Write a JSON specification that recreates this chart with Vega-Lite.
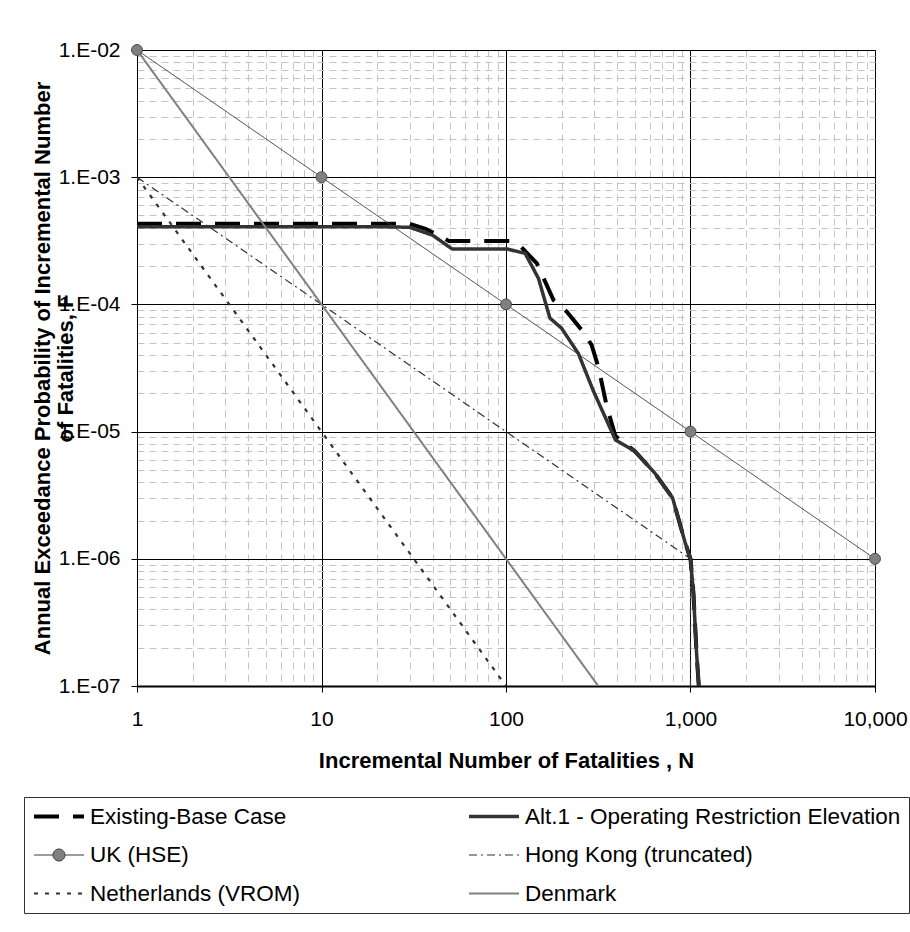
{
  "$schema": "https://vega.github.io/schema/vega-lite/v6.json",
  "width": 738,
  "height": 636,
  "autosize": {"type": "none"},
  "padding": {"left": 137, "top": 50, "right": 35, "bottom": 246},
  "background": "white",
  "config": {
    "view": {"stroke": null},
    "font": "Liberation Sans",
    "axis": {"labelFont": "Liberation Sans", "titleFont": "Liberation Sans"}
  },
  "datasets": {
    "curves": [
      {"series": "Existing-Base Case", "i": 0, "N": 1, "F": 4.3e-4},
      {"series": "Existing-Base Case", "i": 1, "N": 30, "F": 4.3e-4},
      {"series": "Existing-Base Case", "i": 2, "N": 37, "F": 3.9e-4},
      {"series": "Existing-Base Case", "i": 3, "N": 49, "F": 3.15e-4},
      {"series": "Existing-Base Case", "i": 4, "N": 105, "F": 3.15e-4},
      {"series": "Existing-Base Case", "i": 5, "N": 119, "F": 2.9e-4},
      {"series": "Existing-Base Case", "i": 6, "N": 147, "F": 2.1e-4},
      {"series": "Existing-Base Case", "i": 7, "N": 181, "F": 1.08e-4},
      {"series": "Existing-Base Case", "i": 8, "N": 213, "F": 8.8e-5},
      {"series": "Existing-Base Case", "i": 9, "N": 257, "F": 6.3e-5},
      {"series": "Existing-Base Case", "i": 10, "N": 291, "F": 4.8e-5},
      {"series": "Existing-Base Case", "i": 11, "N": 317, "F": 3.2e-5},
      {"series": "Existing-Base Case", "i": 12, "N": 352, "F": 1.57e-5},
      {"series": "Existing-Base Case", "i": 13, "N": 392, "F": 9.2e-6},
      {"series": "Existing-Base Case", "i": 14, "N": 500, "F": 7.0e-6},
      {"series": "Existing-Base Case", "i": 15, "N": 642, "F": 4.7e-6},
      {"series": "Existing-Base Case", "i": 16, "N": 800, "F": 3.0e-6},
      {"series": "Existing-Base Case", "i": 17, "N": 934, "F": 1.35e-6},
      {"series": "Existing-Base Case", "i": 18, "N": 1000, "F": 1.0e-6},
      {"series": "Existing-Base Case", "i": 19, "N": 1037, "F": 5.4e-7},
      {"series": "Existing-Base Case", "i": 20, "N": 1079, "F": 1.8e-7},
      {"series": "Existing-Base Case", "i": 21, "N": 1109, "F": 1e-7},
      {"series": "Alt.1 - Operating Restriction Elevation", "i": 0, "N": 1, "F": 4.08e-4},
      {"series": "Alt.1 - Operating Restriction Elevation", "i": 1, "N": 20, "F": 4.08e-4},
      {"series": "Alt.1 - Operating Restriction Elevation", "i": 2, "N": 30, "F": 4.04e-4},
      {"series": "Alt.1 - Operating Restriction Elevation", "i": 3, "N": 40, "F": 3.5e-4},
      {"series": "Alt.1 - Operating Restriction Elevation", "i": 4, "N": 51, "F": 2.73e-4},
      {"series": "Alt.1 - Operating Restriction Elevation", "i": 5, "N": 101, "F": 2.73e-4},
      {"series": "Alt.1 - Operating Restriction Elevation", "i": 6, "N": 127, "F": 2.52e-4},
      {"series": "Alt.1 - Operating Restriction Elevation", "i": 7, "N": 150, "F": 1.6e-4},
      {"series": "Alt.1 - Operating Restriction Elevation", "i": 8, "N": 173, "F": 7.8e-5},
      {"series": "Alt.1 - Operating Restriction Elevation", "i": 9, "N": 200, "F": 6.5e-5},
      {"series": "Alt.1 - Operating Restriction Elevation", "i": 10, "N": 247, "F": 4.1e-5},
      {"series": "Alt.1 - Operating Restriction Elevation", "i": 11, "N": 297, "F": 2.1e-5},
      {"series": "Alt.1 - Operating Restriction Elevation", "i": 12, "N": 392, "F": 8.6e-6},
      {"series": "Alt.1 - Operating Restriction Elevation", "i": 13, "N": 500, "F": 7.0e-6},
      {"series": "Alt.1 - Operating Restriction Elevation", "i": 14, "N": 642, "F": 4.7e-6},
      {"series": "Alt.1 - Operating Restriction Elevation", "i": 15, "N": 800, "F": 3.0e-6},
      {"series": "Alt.1 - Operating Restriction Elevation", "i": 16, "N": 934, "F": 1.35e-6},
      {"series": "Alt.1 - Operating Restriction Elevation", "i": 17, "N": 1000, "F": 1.0e-6},
      {"series": "Alt.1 - Operating Restriction Elevation", "i": 18, "N": 1037, "F": 5.4e-7},
      {"series": "Alt.1 - Operating Restriction Elevation", "i": 19, "N": 1079, "F": 1.8e-7},
      {"series": "Alt.1 - Operating Restriction Elevation", "i": 20, "N": 1109, "F": 1e-7},
      {"series": "UK (HSE)", "i": 0, "N": 1, "F": 1e-2},
      {"series": "UK (HSE)", "i": 1, "N": 10, "F": 1e-3},
      {"series": "UK (HSE)", "i": 2, "N": 100, "F": 1e-4},
      {"series": "UK (HSE)", "i": 3, "N": 1000, "F": 1e-5},
      {"series": "UK (HSE)", "i": 4, "N": 10000, "F": 1e-6},
      {"series": "Hong Kong (truncated)", "i": 0, "N": 1, "F": 1e-3},
      {"series": "Hong Kong (truncated)", "i": 1, "N": 1000, "F": 1e-6},
      {"series": "Hong Kong (truncated)", "i": 2, "N": 1000, "F": 1e-7},
      {"series": "Netherlands (VROM)", "i": 0, "N": 1, "F": 1e-3},
      {"series": "Netherlands (VROM)", "i": 1, "N": 10, "F": 1e-5},
      {"series": "Netherlands (VROM)", "i": 2, "N": 100, "F": 1e-7},
      {"series": "Denmark", "i": 0, "N": 1, "F": 1e-2},
      {"series": "Denmark", "i": 1, "N": 10, "F": 1e-4},
      {"series": "Denmark", "i": 2, "N": 100, "F": 1e-6},
      {"series": "Denmark", "i": 3, "N": 316.2, "F": 1e-7}
    ]
  },
  "layer": [
    {
      "data": {"name": "curves"},
      "mark": {"type": "line", "clip": true, "strokeCap": "butt", "strokeJoin": "round"},
      "encoding": {
        "x": {
          "field": "N",
          "type": "quantitative",
          "scale": {"type": "log", "domain": [1, 10000], "nice": false},
          "axis": {
            "values": [1, 2, 3, 4, 5, 6, 7, 8, 9, 10, 20, 30, 40, 50, 60, 70, 80, 90, 100, 200, 300, 400, 500, 600, 700, 800, 900, 1000, 2000, 3000, 4000, 5000, 6000, 7000, 8000, 9000, 10000],
            "labelExpr": "indexof([1, 10, 100, 1000, 10000], datum.value) >= 0 ? format(datum.value, ',') : ''",
            "labelFontSize": 21,
            "labelColor": "black",
            "labelPadding": 16,
            "labelOverlap": false,
            "labelFlush": false,
            "tickSize": 6,
            "tickColor": "black",
            "tickOpacity": {"condition": {"test": "indexof([1, 10, 100, 1000, 10000], datum.value) >= 0", "value": 1}, "value": 0},
            "domainColor": "black",
            "domainWidth": 2,
            "grid": true,
            "gridColor": {"condition": {"test": "indexof([1, 10, 100, 1000, 10000], datum.value) >= 0", "value": "#000000"}, "value": "#c4c4c4"},
            "gridDash": {"condition": {"test": "indexof([1, 10, 100, 1000, 10000], datum.value) >= 0", "value": []}, "value": [7, 5]},
            "gridWidth": 1,
            "title": "Incremental Number of Fatalities , N",
            "titleFontSize": 22,
            "titleFontWeight": "bold",
            "titleColor": "black",
            "titleBaseline": "middle",
            "titleY": 74
          }
        },
        "y": {
          "field": "F",
          "type": "quantitative",
          "scale": {"type": "log", "domain": [1e-7, 1e-2], "nice": false},
          "axis": {
            "values": [1e-7, 2e-7, 3e-7, 4e-7, 5e-7, 6e-7, 7e-7, 8e-7, 9e-7, 1e-6, 2e-6, 3e-6, 4e-6, 5e-6, 6e-6, 7e-6, 8e-6, 9e-6, 1e-5, 2e-5, 3e-5, 4e-5, 5e-5, 6e-5, 7e-5, 8e-5, 9e-5, 1e-4, 2e-4, 3e-4, 4e-4, 5e-4, 6e-4, 7e-4, 8e-4, 9e-4, 1e-3, 2e-3, 3e-3, 4e-3, 5e-3, 6e-3, 7e-3, 8e-3, 9e-3, 1e-2],
            "labelExpr": "indexof([1e-7, 1e-6, 1e-5, 1e-4, 1e-3, 1e-2], datum.value) >= 0 ? '1.E-0' + format(-log(datum.value) / LN10, '.0f') : ''",
            "labelFontSize": 21,
            "labelColor": "black",
            "labelPadding": 11,
            "labelOverlap": false,
            "labelFlush": false,
            "tickSize": 6,
            "tickColor": "black",
            "tickOpacity": {"condition": {"test": "indexof([1e-7, 1e-6, 1e-5, 1e-4, 1e-3, 1e-2], datum.value) >= 0", "value": 1}, "value": 0},
            "domainColor": "black",
            "domainWidth": 1,
            "grid": true,
            "gridColor": {"condition": {"test": "indexof([1e-7, 1e-6, 1e-5, 1e-4, 1e-3, 1e-2], datum.value) >= 0", "value": "#000000"}, "value": "#c4c4c4"},
            "gridDash": {"condition": {"test": "indexof([1e-7, 1e-6, 1e-5, 1e-4, 1e-3, 1e-2], datum.value) >= 0", "value": []}, "value": [7, 5]},
            "gridWidth": 1,
            "title": ["Annual Exceedance Probability of Incremental Number", "of Fatalities, F"],
            "titleFontSize": 22,
            "titleFontWeight": "bold",
            "titleColor": "black",
            "titleAngle": -90,
            "titleAlign": "center",
            "titleBaseline": "middle",
            "titleLineHeight": 23,
            "titleX": -95,
            "titleY": 318
          }
        },
        "stroke": {
          "field": "series",
          "type": "nominal",
          "scale": {
            "domain": ["Existing-Base Case", "Alt.1 - Operating Restriction Elevation", "UK (HSE)", "Hong Kong (truncated)", "Netherlands (VROM)", "Denmark"],
            "range": ["#000000", "#333333", "#3a3a3a", "#333333", "#333333", "#808080"]
          },
          "legend": {
            "title": null,
            "orient": "none",
            "legendX": -113,
            "legendY": 747,
            "direction": "horizontal",
            "columns": 2,
            "symbolSize": 2500,
            "symbolType": "stroke",
            "clipHeight": 23,
            "labelFontSize": 22.5,
            "labelFont": "Liberation Sans",
            "labelColor": "black",
            "labelOffset": 4,
            "labelLimit": 600,
            "columnPadding": 166,
            "rowPadding": 15.5,
            "padding": 8,
            "strokeColor": "#333333",
            "fillColor": "white",
            "encode": {
              "symbols": {
                "update": {
                  "shape": {"signal": "datum.value === 'UK (HSE)' ? 'M-1,0H-0.24M0.24,0H1M-0.24,0A0.24,0.24,0,1,1,0.24,0A0.24,0.24,0,1,1,-0.24,0Z' : 'stroke'"},
                  "fill": {"signal": "datum.value === 'UK (HSE)' ? '#808080' : 'transparent'"}
                }
              }
            }
          }
        },
        "strokeDash": {
          "field": "series",
          "type": "nominal",
          "scale": {
            "domain": ["Existing-Base Case", "Alt.1 - Operating Restriction Elevation", "UK (HSE)", "Hong Kong (truncated)", "Netherlands (VROM)", "Denmark"],
            "range": [[25, 14], [1, 0], [1, 0], [8, 4, 2, 4], [4, 7], [1, 0]]
          }
        },
        "strokeWidth": {
          "field": "series",
          "type": "nominal",
          "scale": {
            "type": "ordinal",
            "domain": ["Existing-Base Case", "Alt.1 - Operating Restriction Elevation", "UK (HSE)", "Hong Kong (truncated)", "Netherlands (VROM)", "Denmark"],
            "range": [4, 3.5, 1, 1.2, 2.2, 2]
          }
        },
        "order": {"field": "i", "type": "quantitative"}
      }
    },
    {
      "data": {"name": "curves"},
      "transform": [{"filter": "datum.series === 'UK (HSE)'"}],
      "mark": {"type": "point", "filled": true, "shape": "circle", "size": 120, "fill": "#808080", "stroke": "#4d4d4d", "strokeWidth": 1, "opacity": 1, "clip": false},
      "encoding": {
        "x": {"field": "N", "type": "quantitative"},
        "y": {"field": "F", "type": "quantitative"}
      }
    }
  ]
}
